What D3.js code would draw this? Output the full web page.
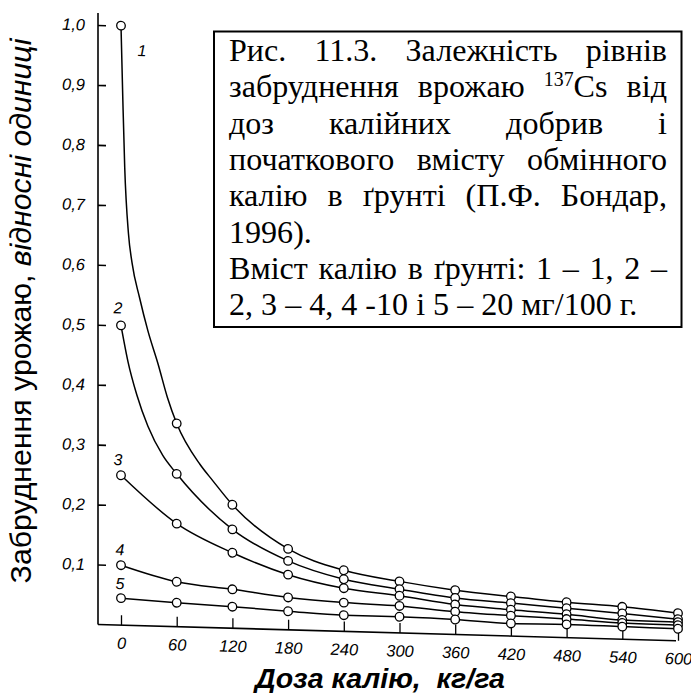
<!DOCTYPE html>
<html><head><meta charset="utf-8">
<script src="https://cdn.jsdelivr.net/npm/d3@7"></script>
<style>body{margin:0;background:#fff}svg{display:block}</style>
</head><body>
<svg id="chart" width="691" height="693"></svg>
<script>
// ---- data ----
const doses = [0, 60, 120, 180, 240, 300, 360, 420, 480, 540, 600];
const series1 = [1.0, 0.339, 0.206, 0.135, 0.102, 0.086, 0.074, 0.066, 0.059, 0.054, 0.046];
const series2 = [0.5, 0.255, 0.165, 0.115, 0.087, 0.073, 0.061, 0.055, 0.049, 0.043, 0.036];
const series3 = [0.25, 0.172, 0.126, 0.092, 0.072, 0.062, 0.050, 0.044, 0.039, 0.032, 0.031];
const series4 = [0.1, 0.075, 0.065, 0.054, 0.048, 0.045, 0.038, 0.034, 0.031, 0.027, 0.026];
const series5 = [0.045, 0.040, 0.036, 0.031, 0.027, 0.027, 0.025, 0.021, 0.022, 0.021, 0.020];
// extra points (between markers)
const trace1Dose = [2, 4, 8, 12, 20, 29, 40, 50, 85, 99];
const trace1Val  = [0.875, 0.764, 0.654, 0.604, 0.547, 0.492, 0.437, 0.382, 0.272, 0.245];
const trace2Dose = [7.5, 17, 29, 45];
const trace2Val  = [0.44, 0.385, 0.333, 0.285];
const seriesNames = ["1", "2", "3", "4", "5"];
const yTickValues = [0.1, 0.2, 0.3, 0.4, 0.5, 0.6, 0.7, 0.8, 0.9, 1.0];
const yTickLabels = ["0,1", "0,2", "0,3", "0,4", "0,5", "0,6", "0,7", "0,8", "0,9", "1,0"];
const xTickLabels = ["0", "60", "120", "180", "240", "300", "360", "420", "480", "540", "600"];
const xTitle = "Доза калію,  кг/га";
const yTitleA = "Забруднення урожаю, ";
const yTitleB = "відносні одиниці";
const captionLines = [
  {words: ["Рис.", "11.3.", "Залежність", "рівнів"], justify: true},
  {words: ["забруднення", "врожаю", ["137", "Cs"], "від"], justify: true},
  {words: ["доз", "калійних", "добрив", "і"], justify: true},
  {words: ["початкового", "вмісту", "обмінного"], justify: true},
  {words: ["калію", "в", "ґрунті", "(П.Ф.", "Бондар,"], justify: true},
  {words: ["1996)."], justify: false},
  {words: ["Вміст", "калію", "в", "ґрунті:", "1", "–", "1,", "2", "–"], justify: true},
  {words: ["2,", "3", "–", "4,", "4", "-10", "і", "5", "–", "20", "мг/100", "г."], justify: false}
];

// ---- layout ----
const svg = d3.select("#chart");
svg.append("rect").attr("width", 691).attr("height", 693).attr("fill", "#fff");
const ox = 98, oy = 624;
const x = d3.scaleLinear().domain([0, 600]).range([121, 678]);
const y = d3.scaleLinear().domain([0, 1]).range([624.5, 25]);
const skew = Math.atan(0.028) * 180 / Math.PI;
const plot = svg.append("g").attr("transform", `translate(${ox},${oy}) skewY(${skew}) translate(${-ox},${-oy})`);
const sansFont = '"Liberation Sans"';
const serifFont = '"Liberation Serif"';

// axes lines
plot.append("line").attr("x1", ox).attr("x2", ox).attr("y1", 13).attr("y2", oy + 0.5)
  .attr("stroke", "#000").attr("stroke-width", 1.6);
plot.append("line").attr("x1", ox).attr("x2", 676).attr("y1", oy + 0.5).attr("y2", oy + 0.5)
  .attr("stroke", "#000").attr("stroke-width", 1.6);

const yAxis = d3.axisLeft(y).tickValues(yTickValues).tickSize(-8).tickPadding(13)
  .tickFormat((d, i) => yTickLabels[i]);
const gy = plot.append("g").attr("transform", `translate(${ox},0)`).call(yAxis);
gy.select(".domain").remove();
gy.selectAll(".tick line").attr("stroke", "#000").attr("stroke-width", 1.6);
gy.selectAll(".tick text").style("font-family", sansFont).attr("font-style", "italic")
  .attr("font-size", 16.5).attr("fill", "#000");

const xAxis = d3.axisBottom(x).tickValues(doses).tickSize(-10).tickPadding(12)
  .tickFormat((d, i) => xTickLabels[i]);
const gx = plot.append("g").attr("transform", `translate(0,${oy + 0.5})`).call(xAxis);
gx.select(".domain").remove();
gx.selectAll(".tick line").attr("stroke", "#000").attr("stroke-width", 1.3);
gx.selectAll(".tick text").style("font-family", sansFont).attr("font-style", "italic")
  .attr("font-size", 16.5).attr("fill", "#000");

// series
const allSeries = [series1, series2, series3, series4, series5];
const traces = [[trace1Dose, trace1Val], [trace2Dose, trace2Val], [[], []], [[], []], [[], []]];
const line = d3.line().x(d => x(d[0])).y(d => y(d[1])).curve(d3.curveMonotoneX);
allSeries.forEach((s, i) => {
  const pts = doses.map((d, j) => [d, s[j]]);
  traces[i][0].forEach((d, j) => pts.push([d, traces[i][1][j]]));
  pts.sort((a, b) => a[0] - b[0]);
  plot.append("path").attr("d", line(pts)).attr("fill", "none").attr("stroke", "#000").attr("stroke-width", 1.5);
});
allSeries.forEach((s) => {
  plot.append("g").selectAll("circle").data(doses.map((d, j) => [d, s[j]])).join("circle")
    .attr("cx", d => x(d[0])).attr("cy", d => y(d[1])).attr("r", 4.3)
    .attr("fill", "#fff").attr("stroke", "#000").attr("stroke-width", 1.3);
});
// curve numbers (offsets from first marker)
const labelOffsets = [[21, 30], [-3, -12], [-3, -10], [-1, -10], [-1, -9]];
allSeries.forEach((s, i) => {
  plot.append("text").attr("x", x(doses[0]) + labelOffsets[i][0]).attr("y", y(s[0]) + labelOffsets[i][1])
    .attr("text-anchor", "middle").style("font-family", sansFont).attr("font-style", "italic")
    .attr("font-size", 16).text(seriesNames[i]);
});

// x title
const xt = svg.append("text").attr("x", 380).attr("y", 688).attr("text-anchor", "middle")
  .style("font-family", sansFont).attr("font-style", "italic").attr("font-weight", "bold")
  .attr("font-size", 24).style("white-space", "pre").text(xTitle);
{
  const w = xt.node().getComputedTextLength();
  xt.attr("font-size", 24 * 250 / w);
}
// y title
const yt = svg.append("text").attr("transform", "translate(31,311) rotate(-90)").attr("text-anchor", "middle")
  .style("font-family", sansFont).attr("font-size", 22).style("white-space", "pre");
yt.append("tspan").text(yTitleA);
yt.append("tspan").attr("font-style", "italic").text(yTitleB);
{
  const w = yt.node().getComputedTextLength();
  yt.attr("font-size", 22 * 545 / w);
}

// caption box
svg.append("rect").attr("x", 214).attr("y", 31.5).attr("width", 467.5).attr("height", 295.5)
  .attr("fill", "#fff").attr("stroke", "#000").attr("stroke-width", 2);
const cap = svg.append("g");
const measure = (str, size) => {
  const t = svg.append("text").style("font-family", serifFont).attr("font-size", size).style("white-space", "pre").text(str);
  const w = t.node().getComputedTextLength(); t.remove(); return w;
};
const lastLine = captionLines[7].words.join(" ");
const fs = Math.round(100 * 408 / measure(lastLine, 100) * 10) / 10;
const spaceW = measure("a a", fs) - measure("aa", fs);
const cx0 = 229, cx1 = 667, base0 = 61, pitch = 36.3;
captionLines.forEach((ln, li) => {
  const yy = base0 + li * pitch;
  const els = ln.words.map(w => {
    const t = cap.append("text").attr("y", yy).style("font-family", serifFont)
      .style("font-size", fs + "px").attr("fill", "#000");
    if (Array.isArray(w)) {
      t.append("tspan").style("font-size", (fs * 0.62) + "px").attr("dy", -fs * 0.36).text(w[0]);
      t.append("tspan").attr("dy", fs * 0.36).text(w[1]);
    } else t.text(w);
    return t;
  });
  const widths = els.map(e => e.node().getComputedTextLength());
  const total = d3.sum(widths);
  const gap = (ln.justify && els.length > 1) ? (cx1 - cx0 - total) / (els.length - 1) : spaceW;
  let xx = cx0;
  els.forEach((e, i) => { e.attr("x", xx); xx += widths[i] + gap; });
});
</script>
</body></html>
